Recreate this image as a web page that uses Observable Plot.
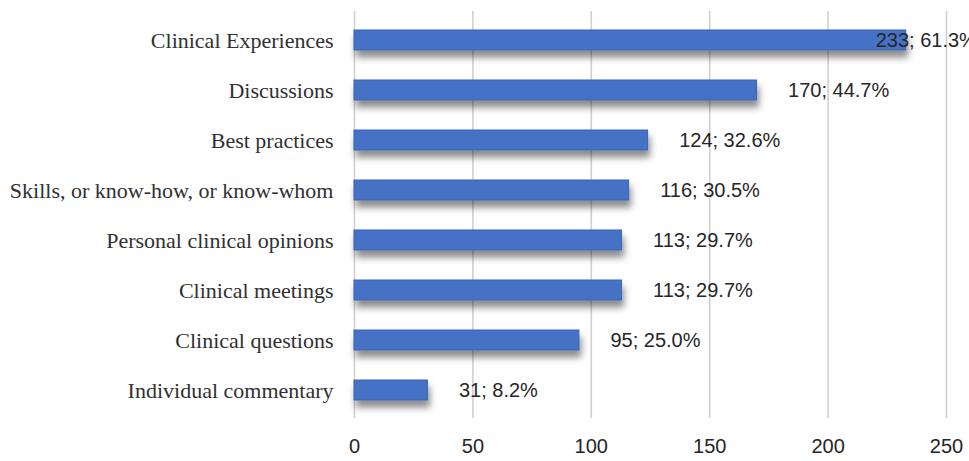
<!DOCTYPE html>
<html>
<head>
<meta charset="utf-8">
<script src="https://cdn.jsdelivr.net/npm/d3@7"></script>
<script src="https://cdn.jsdelivr.net/npm/@observablehq/plot@0.6"></script>
<style>
  html, body { margin: 0; padding: 0; background: #fff; overflow: hidden; }
  #chart svg { display: block; }
</style>
</head>
<body>
<div id="chart"></div>
<script>
const categories = [
  "Clinical Experiences",
  "Discussions",
  "Best practices",
  "Skills, or know-how, or know-whom",
  "Personal clinical opinions",
  "Clinical meetings",
  "Clinical questions",
  "Individual commentary"
];
const counts = [233, 170, 124, 116, 113, 113, 95, 31];
const percents = [61.3, 44.7, 32.6, 30.5, 29.7, 29.7, 25.0, 8.2];
const xTicks = [0, 50, 100, 150, 200, 250];

const data = categories.map((c, i) => ({
  category: c,
  count: counts[i],
  label: `${counts[i]}; ${percents[i].toFixed(1)}%`
}));

const chart = Plot.plot({
  width: 969,
  height: 461,
  marginTop: 11,
  marginBottom: 43,
  marginLeft: 354,
  marginRight: 23,
  style: { background: "#fff", overflow: "visible" },
  x: { domain: [0, 250], ticks: xTicks },
  y: { domain: categories, paddingInner: 0.6, paddingOuter: 0.3 },
  marks: [
    Plot.ruleX(xTicks, { stroke: "#d0d0d0", strokeWidth: 1.6, strokeOpacity: 1 }),
    Plot.barX(data, {
      x: "count", y: "category",
      fill: "#4472C4", stroke: "#3A64B5", strokeWidth: 1,
      className: "bars"
    }),
    Plot.text(data, {
      x: d => Math.min(d.count, 207),
      y: "category",
      text: "label",
      dx: 31,
      textAnchor: "start",
      fill: "#262626",
      fontSize: 20,
      fontFamily: "'Liberation Sans', Arial, sans-serif"
    }),
    Plot.axisX(xTicks, {
      tickSize: 0, tickPadding: 20,
      fontSize: 20, fill: "#262626",
      fontFamily: "'Liberation Sans', Arial, sans-serif",
      label: null
    }),
    Plot.axisY({
      tickSize: 0, tickPadding: 21,
      fontSize: 22, fill: "#303030",
      fontFamily: "'Liberation Serif', 'Times New Roman', serif",
      label: null
    })
  ]
});

// drop shadow for bars
const ns = "http://www.w3.org/2000/svg";
const defs = document.createElementNS(ns, "defs");
defs.innerHTML = `<filter id="barShadow" x="-5%" y="-50%" width="115%" height="250%">
  <feDropShadow dx="2" dy="7" stdDeviation="3.5" flood-color="#000" flood-opacity="0.45"/>
</filter>`;
chart.insertBefore(defs, chart.firstChild);
const bars = chart.querySelector("g.bars") || chart.querySelector("g[aria-label='bar']");
if (bars) bars.setAttribute("filter", "url(#barShadow)");

document.getElementById("chart").appendChild(chart);
</script>
</body>
</html>
